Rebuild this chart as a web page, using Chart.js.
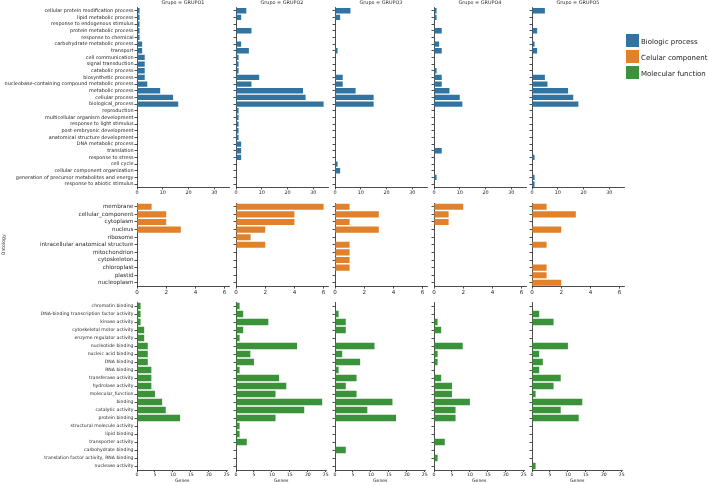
<!DOCTYPE html>
<html>
<head>
<meta charset="utf-8">
<script src="https://cdn.jsdelivr.net/npm/chart.js@4.4.1/dist/chart.umd.min.js"></script>
<style>
  body { margin: 0; background: #fff; width: 709px; height: 485px; position: relative; overflow: hidden; font-family: "DejaVu Sans", sans-serif; }
  canvas { position: absolute; }
  .key { position: absolute; left: 626px; width: 13px; height: 13px; }
  .key-text { position: absolute; left: 641px; font-size: 7px; line-height: 9px; color: #222; white-space: nowrap; }
</style>
</head>
<body>
<script>
(() => {
  'use strict'

  const groups = ['GRUPO1', 'GRUPO2', 'GRUPO3', 'GRUPO4', 'GRUPO5']
  const ontologies = ['Biologic process', 'Celular component', 'Molecular function']

  // Biologic process
  const bpLabels = [
    'cellular protein modification process',
    'lipid metabolic process',
    'response to endogenous stimulus',
    'protein metabolic process',
    'response to chemical',
    'carbohydrate metabolic process',
    'transport',
    'cell communication',
    'signal transduction',
    'catabolic process',
    'biosynthetic process',
    'nucleobase-containing compound metabolic process',
    'metabolic process',
    'cellular process',
    'biological_process',
    'reproduction',
    'multicellular organism development',
    'response to light stimulus',
    'post-embryonic development',
    'anatomical structure development',
    'DNA metabolic process',
    'translation',
    'response to stress',
    'cell cycle',
    'cellular component organization',
    'generation of precursor metabolites and energy',
    'response to abiotic stimulus'
  ]
  const bpValues = [
    [1, 1, 1, 1, 1, 2, 2, 3, 3, 3, 3, 4, 9, 14, 16, 0, 0, 0, 0, 0, 0, 0, 0, 0, 0, 0, 0],
    [4, 2, 0, 6, 0, 2, 5, 1, 1, 1, 9, 6, 26, 27, 34, 1, 1, 1, 1, 1, 2, 2, 2, 0, 0, 0, 0],
    [6, 2, 0, 0, 0, 0, 1, 0, 0, 0, 3, 3, 8, 15, 15, 0, 0, 0, 0, 0, 0, 0, 0, 1, 2, 0, 0],
    [1, 1, 0, 3, 0, 2, 3, 0, 0, 1, 3, 3, 6, 10, 11, 0, 0, 0, 0, 0, 0, 3, 0, 0, 0, 1, 0],
    [5, 0, 0, 2, 0, 1, 2, 0, 0, 0, 5, 6, 14, 16, 18, 0, 0, 0, 0, 0, 0, 0, 1, 0, 0, 1, 1]
  ]
  const bpTicks = [0, 10, 20, 30]

  // Celular component
  const ccLabels = [
    'membrane',
    'cellular_component',
    'cytoplasm',
    'nucleus',
    'ribosome',
    'intracellular anatomical structure',
    'mitochondrion',
    'cytoskeleton',
    'chloroplast',
    'plastid',
    'nucleoplasm'
  ]
  const ccValues = [
    [1, 2, 2, 3, 0, 0, 0, 0, 0, 0, 0],
    [6, 4, 4, 2, 1, 2, 0, 0, 0, 0, 0],
    [1, 3, 1, 3, 0, 1, 1, 1, 1, 0, 0],
    [2, 1, 1, 0, 0, 0, 0, 0, 0, 0, 0],
    [1, 3, 0, 2, 0, 1, 0, 0, 1, 1, 2]
  ]
  const ccTicks = [0, 2, 4, 6]

  // Molecular function
  const mfLabels = [
    'chromatin binding',
    'DNA-binding transcription factor activity',
    'kinase activity',
    'cytoskeletal motor activity',
    'enzyme regulator activity',
    'nucleotide binding',
    'nucleic acid binding',
    'DNA binding',
    'RNA binding',
    'transferase activity',
    'hydrolase activity',
    'molecular_function',
    'binding',
    'catalytic activity',
    'protein binding',
    'structural molecule activity',
    'lipid binding',
    'transporter activity',
    'carbohydrate binding',
    'translation factor activity, RNA binding',
    'nuclease activity'
  ]
  const mfValues = [
    [1, 1, 1, 2, 2, 3, 3, 3, 4, 4, 4, 5, 7, 8, 12, 0, 0, 0, 0, 0, 0],
    [1, 2, 9, 2, 1, 17, 4, 5, 1, 12, 14, 11, 24, 19, 11, 1, 1, 3, 0, 0, 0],
    [0, 1, 3, 3, 0, 11, 2, 7, 1, 6, 3, 6, 16, 9, 17, 0, 0, 0, 3, 0, 0],
    [0, 0, 1, 2, 0, 8, 1, 1, 0, 2, 5, 5, 10, 6, 6, 0, 0, 3, 0, 1, 0],
    [0, 2, 6, 0, 0, 10, 2, 3, 2, 8, 6, 1, 14, 8, 13, 0, 0, 0, 0, 0, 1]
  ]
  const mfTicks = [0, 5, 10, 15, 20, 25]

  const colors = ['#3274a1', '#e1812c', '#3a923a']
  const ink = '#1f1f1f'

  Chart.defaults.font.family = '"DejaVu Sans", sans-serif'
  Chart.defaults.color = ink

  // layout of the facet grid (pixels)
  const panelX = [137, 236, 335, 434, 532]
  const rows = [
    { labels: bpLabels, values: bpValues, ticks: bpTicks, top: 7.4, height: 180, width: 92, font: 4.9 },
    { labels: ccLabels, values: ccValues, ticks: ccTicks, top: 203, height: 83.6, width: 92, font: 5.6 },
    { labels: mfLabels, values: mfValues, ticks: mfTicks, top: 301.7, height: 168, width: 90.5, font: 4.6 }
  ]
  const titleSize = 4.9

  const makePanel = (r, c) => {
    const row = rows[r]
    const yW = c === 0 ? panelX[0] : 5
    const topPad = r === 0 ? titleSize * 1.2 + 1.5 : 8
    const xMin = r === 2 ? 14 : 10
    const w = Math.round(yW + row.width + 8)
    const h = Math.ceil(topPad + row.height + xMin)
    const xMax = Math.max(...row.values.flat()) * 1.05

    const canvas = document.createElement('canvas')
    canvas.width = w
    canvas.height = h
    canvas.style.left = (panelX[c] - yW) + 'px'
    canvas.style.top = (row.top - topPad) + 'px'
    document.body.appendChild(canvas)

    // eslint-disable-next-line no-new
    new Chart(canvas, {
      type: 'bar',
      data: {
        labels: row.labels,
        datasets: [{
          data: row.values[c],
          backgroundColor: colors[r],
          barPercentage: 0.8,
          categoryPercentage: 1
        }]
      },
      options: {
        indexAxis: 'y',
        responsive: false,
        animation: false,
        layout: {
          padding: { top: r === 0 ? 0 : topPad, right: w - yW - row.width, left: 0, bottom: 0 }
        },
        plugins: {
          legend: { display: false },
          tooltip: { enabled: false },
          title: {
            display: r === 0,
            text: 'Grupo = ' + groups[c],
            fullSize: false,
            color: ink,
            font: { size: titleSize, weight: 'normal' },
            padding: { top: 0, bottom: 1.5 }
          }
        },
        scales: {
          x: {
            min: 0,
            max: xMax,
            afterBuildTicks: s => { s.ticks = row.ticks.map(v => ({ value: v })) },
            afterFit: s => { s.height = h - topPad - row.height },
            border: { color: ink, width: 0.8 },
            grid: { drawOnChartArea: false, tickLength: 2, color: ink, lineWidth: 0.8 },
            ticks: { font: { size: row.font }, color: ink, padding: 0.5, maxRotation: 0, autoSkip: false },
            title: { display: r === 2, text: 'Genes', color: ink, font: { size: 4.6 }, padding: 0 }
          },
          y: {
            afterFit: s => { s.width = yW },
            border: { color: ink, width: 0.8 },
            grid: { offset: false, drawOnChartArea: false, tickLength: 2.5, color: ink, lineWidth: 0.8 },
            ticks: { display: c === 0, autoSkip: false, padding: 1, font: { size: row.font }, color: ink },
            title: { display: r === 1 && c === 0, text: 'Ontology', color: ink, font: { size: 4.6 }, padding: { top: 1, bottom: 0 } }
          }
        }
      }
    })
  }

  rows.forEach((row, r) => groups.forEach((g, c) => makePanel(r, c)))

  // legend for the three ontologies
  ontologies.forEach((name, i) => {
    const key = document.createElement('div')
    key.className = 'key'
    key.style.top = (34 + i * 16) + 'px'
    key.style.background = colors[i]
    document.body.appendChild(key)
    const text = document.createElement('div')
    text.className = 'key-text'
    text.style.top = (37.5 + i * 16) + 'px'
    text.textContent = name
    document.body.appendChild(text)
  })
})()
</script>
</body>
</html>
